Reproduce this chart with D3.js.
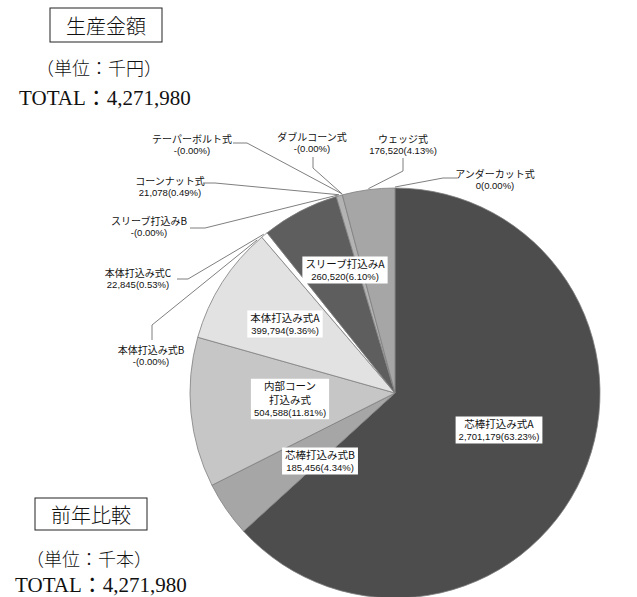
<!DOCTYPE html>
<html>
<head>
<meta charset="utf-8">
<script src="https://cdn.jsdelivr.net/npm/d3@7"></script>
<style>
  body { margin: 0; background: #fff; }
  svg text { fill: #111; }
</style>
</head>
<body>
<div id="content"></div>
<script>
// data (null = shown as "-")
const categories = ["芯棒打込み式A", "芯棒打込み式B", "内部コーン打込み式", "本体打込み式B", "本体打込み式A",
    "本体打込み式C", "スリーブ打込みB", "スリーブ打込みA", "コーンナット式", "テーパーボルト式",
    "ダブルコーン式", "ウェッジ式", "アンダーカット式"];
const values = [2701179, 185456, 504588, null, 399794, 22845, null, 260520, 21078, null, null, 176520, 0];
const totalLabel = "4,271,980";

const width = 637, height = 597;
const cx = 395, cy = 393, radius = 205;

const fills = {
    "芯棒打込み式A": "#4d4d4d", "芯棒打込み式B": "#a6a6a6", "内部コーン打込み式": "#c6c6c6",
    "本体打込み式A": "#e2e2e2", "本体打込み式C": "#ffffff", "スリーブ打込みA": "#5e5e5e",
    "コーンナット式": "#b3b3b3", "ウェッジ式": "#a6a6a6"
};

// label placement: inside labels get a white box, outside ones a leader line
const inside = {
    "芯棒打込み式A": { dx: 104, dy: 37 },
    "芯棒打込み式B": { dx: -75, dy: 68 },
    "内部コーン打込み式": { dx: -105, dy: 6, lines: ["内部コーン", "打込み式"] },
    "本体打込み式A": { dx: -110, dy: -69 },
    "スリーブ打込みA": { dx: -50, dy: -123 }
};
const outside = {
    "テーパーボルト式": { x: 192, y: 138, start: [233, 143], elbow: [247, 143] },
    "ダブルコーン式": { x: 312, y: 136, start: [313, 157], elbow: [313, 168] },
    "ウェッジ式": { x: 403, y: 138, start: [403, 158], elbow: [403, 171] },
    "アンダーカット式": { x: 495, y: 173, start: [457, 178], elbow: [443, 178] },
    "コーンナット式": { x: 170, y: 180, start: [203, 183], elbow: [215, 183] },
    "スリーブ打込みB": { x: 149, y: 220, start: [190, 228], elbow: [205, 228], hit: 344 },
    "本体打込み式C": { x: 138, y: 272, start: [177, 279], elbow: [188, 279] },
    "本体打込み式B": { x: 151, y: 349, start: [152, 340], elbow: [152, 325], hit: 318 }
};

const total = d3.sum(values);
const fmt = d3.format(",");
const pct = d3.format(".2%");
function valueText(v) {
    return (v === null ? "-" : fmt(v)) + "(" + pct((v || 0) / total) + ")";
}

const svg = d3.select("#content").append("svg")
    .attr("width", width)
    .attr("height", height);

const cjk = "'Noto Sans CJK JP', sans-serif";
const num = "'Liberation Sans', Arial, sans-serif";
const serif = "'Liberation Serif', 'Noto Sans CJK JP', serif";

// headers
function header(title, unit, o) {
    const g = svg.append("g");
    g.append("rect")
        .attr("x", o.bx).attr("y", o.by)
        .attr("width", o.bw).attr("height", o.bh)
        .attr("fill", "none").attr("stroke", "#222").attr("stroke-width", 1);
    g.append("text")
        .attr("x", o.bx + o.bw / 2).attr("y", o.by + o.bh / 2)
        .attr("text-anchor", "middle").attr("dominant-baseline", "central")
        .style("font-family", cjk).style("font-size", "20px").style("font-weight", 300)
        .text(title);
    g.append("text")
        .attr("x", o.ux).attr("y", o.uy)
        .attr("text-anchor", "middle").attr("dominant-baseline", "central")
        .style("font-family", cjk).style("font-size", "18px").style("font-weight", 300)
        .text(unit);
    g.append("text")
        .attr("x", o.tx).attr("y", o.ty)
        .attr("text-anchor", "middle").attr("dominant-baseline", "central")
        .style("font-family", serif).style("font-size", "21px")
        .text("TOTAL：" + totalLabel);
}
header("生産金額", "（単位：千円）", { bx: 50, by: 8, bw: 112, bh: 34, ux: 99, uy: 67, tx: 105, ty: 98 });
header("前年比較", "（単位：千本）", { bx: 35, by: 498, bw: 112, bh: 32, ux: 89, uy: 558, tx: 101, ty: 585 });

// pie
const pie = d3.pie().sort(null).value(d => d.value || 0);
const arcs = pie(categories.map((c, i) => ({ name: c, value: values[i] })));
const arc = d3.arc().innerRadius(0).outerRadius(radius);

const g = svg.append("g").attr("transform", "translate(" + cx + "," + cy + ")");

g.selectAll("path.slice")
    .data(arcs.filter(d => d.data.value > 0))
    .enter()
    .append("path")
    .attr("class", "slice")
    .attr("d", arc)
    .attr("fill", d => fills[d.data.name])
    .attr("stroke", "#7f7f7f")
    .attr("stroke-width", 0.8);

// leader lines
function rimPoint(angleRad, r) {
    return [cx + r * Math.sin(angleRad), cy - r * Math.cos(angleRad)];
}
arcs.forEach(d => {
    const o = outside[d.data.name];
    if (!o) return;
    const a = o.hit !== undefined ? o.hit * Math.PI / 180 : (d.startAngle + d.endAngle) / 2;
    const p = rimPoint(a, radius + 1);
    svg.append("polyline")
        .attr("points", [o.start, o.elbow, p].map(q => q.join(",")).join(" "))
        .attr("fill", "none")
        .attr("stroke", "#7f7f7f")
        .attr("stroke-width", 1);
    svg.append("text")
        .attr("x", o.x).attr("y", o.y)
        .attr("text-anchor", "middle").attr("dominant-baseline", "central")
        .style("font-family", cjk).style("font-size", "10px")
        .text(d.data.name);
    svg.append("text")
        .attr("x", o.x).attr("y", o.y + 12)
        .attr("text-anchor", "middle").attr("dominant-baseline", "central")
        .style("font-family", num).style("font-size", "9.5px")
        .text(valueText(d.data.value));
});

// inside labels with white boxes
arcs.forEach(d => {
    const o = inside[d.data.name];
    if (!o) return;
    const lines = (o.lines || [d.data.name]);
    const lg = svg.append("g").attr("transform", "translate(" + (cx + o.dx) + "," + (cy + o.dy) + ")");
    const n = lines.length + 1;
    const lh = 13.5;
    const top = -((n - 1) * lh) / 2;
    const texts = [];
    lines.forEach((t, i) => {
        texts.push(lg.append("text")
            .attr("x", 0).attr("y", top + i * lh)
            .attr("text-anchor", "middle").attr("dominant-baseline", "central")
            .style("font-family", cjk).style("font-size", "10.5px")
            .text(t));
    });
    texts.push(lg.append("text")
        .attr("x", 0).attr("y", top + lines.length * lh)
        .attr("text-anchor", "middle").attr("dominant-baseline", "central")
        .style("font-family", num).style("font-size", "9.5px")
        .text(valueText(d.data.value)));
    let w = d3.max(texts, t => t.node().getComputedTextLength());
    lg.insert("rect", "text")
        .attr("x", -w / 2 - 3).attr("y", top - lh / 2)
        .attr("width", w + 6).attr("height", n * lh)
        .attr("fill", "#fff");
});
</script>
</body>
</html>
